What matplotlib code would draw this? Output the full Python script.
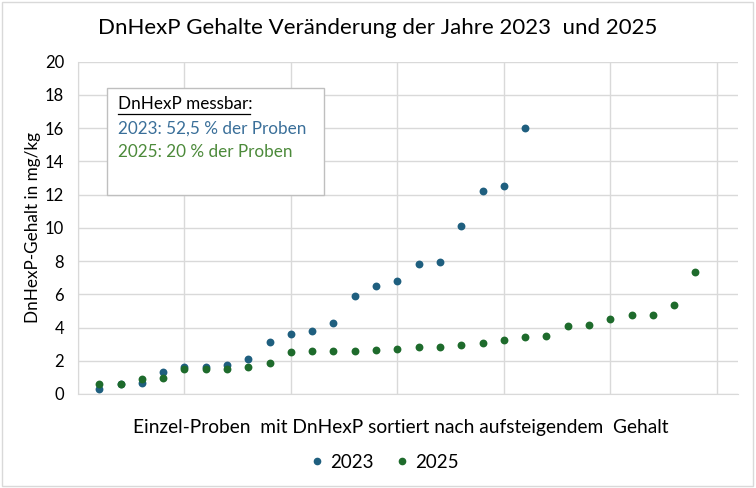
import matplotlib
matplotlib.use("Agg")
import matplotlib.pyplot as plt
from matplotlib.lines import Line2D
from matplotlib.patches import Rectangle

plt.rcParams['font.family'] = ['Lato', 'DejaVu Sans']

# Data
samples_2023 = list(range(1, 22))
values_2023 = [0.28, 0.62, 0.66, 1.30, 1.64, 1.64, 1.75, 2.13, 3.13, 3.63, 3.79,
               4.29, 5.90, 6.52, 6.82, 7.80, 7.92, 10.09, 12.22, 12.50, 16.0]
samples_2025 = list(range(1, 30))
values_2025 = [0.62, 0.62, 0.88, 0.98, 1.48, 1.50, 1.50, 1.60, 1.85, 2.51, 2.57,
               2.61, 2.61, 2.67, 2.73, 2.85, 2.85, 2.95, 3.07, 3.23, 3.45, 3.51,
               4.07, 4.17, 4.51, 4.73, 4.73, 5.36, 7.36]
y_ticks = list(range(0, 21, 2))
x_grid = list(range(0, 31, 5))

c23 = '#1f5f7f'
c25 = '#1e6b2c'
grid_c = '#d9d9d9'

fig = plt.figure(figsize=(7.56, 4.88), dpi=100)
ax = fig.add_axes([78/756, 1-394/488, (738-78)/756, (394-61.7)/488])

ax.scatter(samples_2023, values_2023, s=32, color=c23, zorder=3, linewidths=0)
ax.scatter(samples_2025, values_2025, s=32, color=c25, zorder=4, linewidths=0)

ax.set_xlim(0, 31)
ax.set_ylim(0, 20)
ax.set_yticks(y_ticks)
ax.set_xticks(x_grid)
ax.set_xticklabels([])
ax.tick_params(length=0, labelsize=12, pad=10, colors='#000000')
ax.grid(True, color=grid_c, linewidth=1)
ax.set_axisbelow(True)
for s in ['top', 'right']:
    ax.spines[s].set_visible(False)
for s in ['left', 'bottom']:
    ax.spines[s].set_color(grid_c)

ax.set_ylabel('DnHexP-Gehalt in mg/kg', fontsize=12.3, labelpad=3)

fig.text(378/756, 1-28/488, 'DnHexP Gehalte Veränderung der Jahre 2023  und 2025',
         ha='center', va='center', fontsize=16)
fig.text(401/756, 1-427/488, 'Einzel-Proben  mit DnHexP sortiert nach aufsteigendem  Gehalt',
         ha='center', va='center', fontsize=13.8)

handles = [Line2D([], [], marker='o', linestyle='', color=c23, markersize=4.5, label='2023'),
           Line2D([], [], marker='o', linestyle='', color=c25, markersize=4.5, label='2025')]
fig.legend(handles=handles, loc='center', bbox_to_anchor=(383/756, 1-462/488), ncol=2,
           frameon=False, fontsize=13.5, handletextpad=0.2, columnspacing=1.0, handlelength=1)

# text box
box = Rectangle((107/756, 1-195/488), (324-107)/756, (195-88)/488, transform=fig.transFigure,
                facecolor='white', edgecolor='#bfbfbf', linewidth=1, zorder=5)
fig.add_artist(box)
fig.text(118/756, 1-104/488, 'DnHexP messbar:', fontsize=12.3, va='center', ha='left',
         color='#000000', zorder=6)
fig.text(118/756, 1-129/488, '2023: 52,5 % der Proben', fontsize=12.3, va='center', ha='left',
         color='#3a6f99', zorder=6)
fig.text(118/756, 1-152/488, '2025: 20 % der Proben', fontsize=12.3, va='center', ha='left',
         color='#4c8a3a', zorder=6)
fig.add_artist(Line2D([118/756, 250/756], [1-114/488, 1-114/488], transform=fig.transFigure,
                      color='#000000', linewidth=0.9, zorder=6))

fig.add_artist(Rectangle((2/756, 2/488), 751/756, 484/488, transform=fig.transFigure,
                         facecolor='none', edgecolor='#d9d9d9', linewidth=1))

fig.savefig('out.png', dpi=100)
